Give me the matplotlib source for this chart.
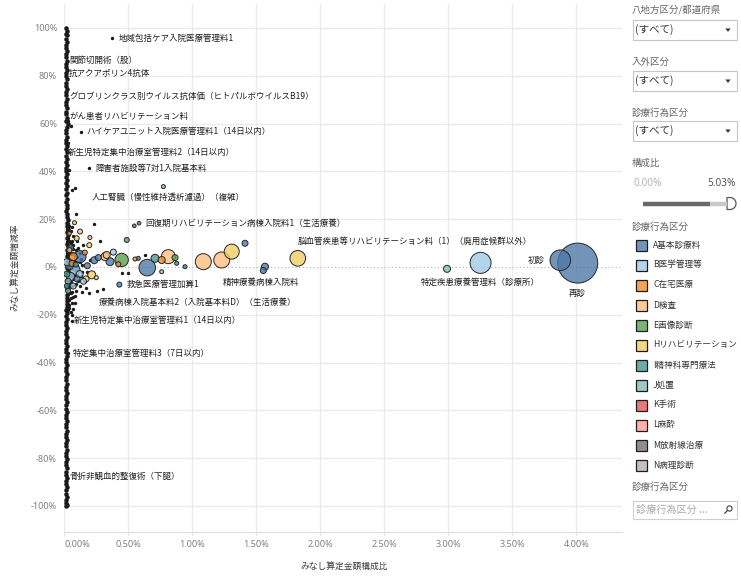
import numpy as np
import matplotlib
matplotlib.use('Agg')
import matplotlib.pyplot as plt
from matplotlib.patches import Rectangle, Polygon, Circle
from matplotlib.colors import to_rgba

plt.rcParams['font.family'] = ['Noto Sans CJK JP', 'DejaVu Sans']

# legend categories (診療行為区分) and tableau colours
categories = ['A基本診療料', 'B医学管理等', 'C在宅医療', 'D検査', 'E画像診断', 'Hリハビリテーション',
              'I精神科専門療法', 'J処置', 'K手術', 'L麻酔', 'M放射線治療', 'N病理診断']
cat_keys = ['A', 'B', 'C', 'D', 'E', 'H', 'I', 'J', 'K', 'L', 'M', 'N']
cat_colors = ['#4E79A7', '#A0CBE8', '#F28E2B', '#FFBE7D', '#59A14F', '#F1CE63',
              '#499894', '#86BCB6', '#E15759', '#FF9D9A', '#79706E', '#BAB0AC']

# coloured bubbles: x = 構成比(%), y = 増減率(%), r = bubble radius
bub_cat = ['A', 'A', 'B', 'J', 'H', 'A', 'A', 'A', 'H', 'D',
           'D', 'A', 'I', 'D', 'C', 'E', 'A', 'A', 'C', 'J',
           'E', 'C', 'D', 'B', 'A', 'A', 'C', 'B', 'H', 'E',
           'A', 'D', 'H', 'D', 'H', 'H', 'C', 'A', 'A', 'D',
           'B', 'B', 'J', 'I', 'B', 'A', 'H', 'D', 'D', 'C',
           'A', 'A', 'J', 'A', 'A', 'I', 'B', 'A', 'C', 'J',
           'B', 'A', 'I']
bub_x = [4.011, 3.875, 3.252, 2.990, 1.824, 1.412, 1.568, 1.555, 1.308, 1.230,
         1.086, 0.648, 0.709, 0.813, 0.761, 0.865, 0.878, 0.943, 0.552, 0.761,
         0.448, 0.422, 0.318, 0.383, 0.357, 0.123, 0.070, 0.084, 0.214, 0.488,
         0.578, 0.123, 0.097, 0.200, 0.080, 0.195, 0.039, 0.234, 0.266, 0.331,
         0.050, 0.120, 0.030, 0.020, 0.150, 0.100, 0.170, 0.250, 0.040, 0.060,
         0.040, 0.430, 0.774, 0.547, 0.584, 0.020, 0.020, 0.180, 0.160, 0.030,
         0.070, 0.050, 0.090]
bub_y = [1.6, 2.8, 1.7, -0.8, 3.6, 9.9, 0.1, -1.5, 6.4, 2.9,
         2.2, -0.3, 3.6, 4.3, 2.9, 3.9, 1.5, 0.1, 3.3, -2.0,
         2.9, 1.1, 4.3, 6.2, 2.2, 4.3, 4.3, -1.3, -3.3, 11.3,
         3.6, 14.8, 12.0, 12.3, 18.5, 9.1, 14.0, 2.8, 3.9, 5.0,
         -4.0, -3.0, -6.0, -8.0, -6.0, -5.0, -5.0, -4.5, 7.0, 1.5,
         0.5, -7.4, 33.6, 17.2, 18.3, -3.0, 2.0, 0.5, 6.0, -10.0,
         -8.0, 8.0, 1.0]
bub_r = [20.0, 10.3, 10.5, 3.5, 7.8, 3.0, 3.5, 3.0, 7.5, 8.0,
         8.0, 8.3, 4.0, 7.0, 3.5, 3.0, 2.0, 2.0, 2.0, 2.0,
         6.7, 2.5, 4.0, 3.0, 4.0, 6.0, 4.0, 5.0, 4.0, 2.5,
         2.0, 2.5, 2.5, 2.0, 2.0, 2.5, 2.0, 3.5, 3.0, 3.5,
         4.0, 3.5, 3.0, 2.5, 3.0, 3.0, 3.0, 2.0, 2.5, 3.0,
         4.0, 2.5, 2.0, 1.8, 1.8, 3.0, 3.5, 3.0, 2.5, 2.5,
         3.0, 3.0, 2.5]

# tiny items near 0% share (the dense column at the left edge)
col_y = [100.0, 98.8, 97.5, 96.9, 95.4, 94.1, 93.0, 91.6, 90.2, 89.1,
         87.7, 86.3, 85.0, 83.8, 82.4, 81.1, 79.7, 78.5, 77.0, 75.8,
         74.3, 73.1, 71.8, 70.4, 69.2, 67.7, 66.5, 65.0, 63.9, 62.4,
         61.2, 59.8, 58.6, 57.1, 55.9, 54.4, 53.3, 51.8, 50.6, 49.2,
         47.9, 46.6, 45.3, 44.0, 42.7, 41.4, 40.1, 38.9, 37.6, 36.2,
         35.0, 33.7, 32.4, 31.1, 29.9, 28.5, 27.3, 26.0, 24.7, 23.5,
         22.1, 20.9, 19.6, 18.4, 17.1, 15.9, 14.6, 13.4, 12.1, 10.9,
         9.6, 8.4, 7.1, 5.9, 4.6, 3.4, 2.1, 0.9, -0.4, -1.6,
         -2.9, -4.1, -5.4, -6.6, -7.9, -9.1, -10.4, -11.6, -12.9, -14.1,
         -15.4, -16.7, -17.9, -19.2, -20.5, -21.8, -23.0, -24.3, -25.6, -26.8,
         -28.1, -29.4, -30.7, -32.0, -33.2, -34.5, -35.8, -37.1, -38.4, -39.7,
         -41.0, -42.3, -43.6, -44.9, -46.2, -47.5, -48.8, -50.1, -51.4, -52.7,
         -54.0, -55.3, -56.6, -57.9, -59.3, -60.6, -61.9, -63.2, -64.5, -65.8,
         -67.1, -68.5, -69.8, -71.1, -72.4, -73.8, -75.1, -76.4, -77.7, -79.0,
         -80.4, -81.7, -83.0, -84.3, -85.6, -86.9, -88.3, -89.6, -90.9, -92.2,
         -93.5, -94.8, -96.1, -97.4, -98.7, -100.0, -99.4, -0.8, 1.5, -3.5]
col_x = [0.01, 0.02, 0.01, 0.02, 0.01, 0.02, 0.01, 0.01, 0.02, 0.01,
         0.01, 0.02, 0.01, 0.01, 0.02, 0.01, 0.01, 0.02, 0.01, 0.01,
         0.02, 0.01, 0.01, 0.02, 0.01, 0.01, 0.02, 0.01, 0.01, 0.02,
         0.01, 0.03, 0.02, 0.01, 0.01, 0.02, 0.01, 0.01, 0.02, 0.01,
         0.02, 0.01, 0.02, 0.01, 0.02, 0.01, 0.01, 0.02, 0.01, 0.02,
         0.01, 0.02, 0.01, 0.02, 0.01, 0.02, 0.01, 0.02, 0.02, 0.01,
         0.02, 0.02, 0.03, 0.02, 0.02, 0.03, 0.02, 0.03, 0.02, 0.03,
         0.02, 0.03, 0.02, 0.03, 0.02, 0.03, 0.02, 0.03, 0.02, 0.03,
         0.02, 0.03, 0.02, 0.03, 0.02, 0.02, 0.03, 0.02, 0.02, 0.02,
         0.02, 0.02, 0.01, 0.02, 0.01, 0.02, 0.01, 0.01, 0.02, 0.01,
         0.01, 0.02, 0.01, 0.01, 0.02, 0.01, 0.01, 0.02, 0.01, 0.01,
         0.02, 0.01, 0.01, 0.02, 0.01, 0.01, 0.02, 0.01, 0.01, 0.02,
         0.01, 0.01, 0.02, 0.01, 0.01, 0.02, 0.01, 0.01, 0.02, 0.01,
         0.01, 0.02, 0.01, 0.01, 0.02, 0.01, 0.01, 0.02, 0.01, 0.01,
         0.02, 0.01, 0.01, 0.02, 0.01, 0.01, 0.02, 0.01, 0.01, 0.02,
         0.01, 0.01, 0.02, 0.01, 0.01, 0.01, 0.02, 0.08, 0.07, 0.09]

# other small items (black dots)
dot_x = [0.03, 0.05, 0.04, 0.07, 0.06, 0.03, 0.09, 0.05, 0.08, 0.04,
         0.10, 0.06, 0.03, 0.08, 0.05, 0.11, 0.07, 0.04, 0.09, 0.06,
         0.03, 0.05, 0.08, 0.04, 0.06, 0.12, 0.14, 0.13, 0.16, 0.02,
         0.05, 0.03, 0.04, 0.02, 0.07, 0.10, 0.15, 0.18, 0.20, 0.17,
         0.091, 0.234, 0.279, 0.058, 0.136, 0.195, 0.253, 0.300, 0.066, 0.080,
         0.070, 0.058, 0.448, 0.500, 0.630, 0.060, 0.085, 0.030, 0.050, 0.373,
         0.130, 0.195, 0.060, 0.031, 0.040, 0.030,
         0.02, 0.04, 0.06, 0.02, 0.05, 0.07, 0.03, 0.02, 0.05, 0.08,
         0.02, 0.04, 0.06, 0.03, 0.07, 0.02, 0.05, 0.09, 0.03, 0.06,
         0.02, 0.04, 0.07, 0.03, 0.05, 0.02, 0.08, 0.04, 0.02, 0.06,
         0.03, 0.05, 0.02, 0.04, 0.03, 0.05, 0.02, 0.04, 0.06, 0.03,
         0.11, 0.12, 0.10, 0.12, 0.09, 0.14, 0.13, 0.10, 0.08, 0.11]
dot_y = [12, 10, 8, 9, 6, 5, 7, 3, 2, 1,
         4, -1, -2, -3, -4, -1, -5, -6, -7, -8,
         -9, -11, -12, -14, -15, 6, 1, -4, -6, 14,
         15, 18, -17, -19, 13, 11, 9, -2, 3, -9,
         22.1, 17.8, 11.0, -8.0, -10.3, -10.8, -10.2, -9.2, -12.5, -15.2,
         -17.4, -20.0, -2.7, -2.4, 5.0, 32.0, 33.0, 61.0, 59.0, 95.8,
         56.6, 41.3, -22.5, -36.1, 40.5, 52.0,
         10.5, 11.0, 10.8, 9.0, 8.5, 7.5, 7.0, 6.0, 5.5, 5.0,
         4.0, 3.5, 2.5, 2.0, 1.0, 0.5, -0.5, -1.5, -1.0, -2.5,
         -3.0, -3.5, -4.0, -5.0, -6.5, -7.0, -7.5, -8.5, -10.0, -10.5,
         -11.5, -12.8, -13.5, -16.0, -18.0, -19.0, 16.0, 17.0, 16.5, 20.0,
         8.0, 2.0, -3.0, -8.0, -10.0, -2.0, 3.5, 0.5, -0.5, -6.0]

label_names = ['地域包括ケア入院医療管理料1', '関節切開術（股）', '抗アクアポリン4抗体',
               'グロブリンクラス別ウイルス抗体価（ヒトパルボウイルスB19）', 'がん患者リハビリテーション料',
               'ハイケアユニット入院医療管理料1（14日以内）', '新生児特定集中治療室管理料2（14日以内）',
               '障害者施設等7対1入院基本料', '人工腎臓（慢性維持透析濾過）（複雑）',
               '回復期リハビリテーション病棟入院料1（生活療養）',
               '脳血管疾患等リハビリテーション料（1）（廃用症候群以外）', '初診',
               '特定疾患療養管理料（診療所）', '再診', '精神療養病棟入院料', '救急医療管理加算1',
               '療養病棟入院基本料2（入院基本料D）（生活療養）', '新生児特定集中治療室管理料1（14日以内）',
               '特定集中治療室管理料3（7日以内）', '骨折非観血的整復術（下腿）']

x_ticks = [0.0, 0.5, 1.0, 1.5, 2.0, 2.5, 3.0, 3.5, 4.0]
y_ticks = [-100, -80, -60, -40, -20, 0, 20, 40, 60, 80, 100]

W, H = 741, 582
fig = plt.figure(figsize=(W / 100, H / 100), dpi=100)
ax = fig.add_axes([64 / W, 1 - 532 / H, (622 - 64) / W, (532 - 4) / H])
ax.set_xlim(-0.0023, 4.357)
ax.set_ylim(-110.9, 110.0)

# grid
for xv in x_ticks:
    ax.axvline(xv, color='#ebebeb', lw=1.0, zorder=0)
for yv in y_ticks:
    if yv != 0:
        ax.axhline(yv, color='#ebebeb', lw=1.0, zorder=0)
ax.axhline(0, color='#b0b0b0', lw=0.8, ls=(0, (1, 2.2)), zorder=0.5)

for s in ['top', 'right', 'left']:
    ax.spines[s].set_visible(False)
ax.spines['bottom'].set_color('#dcdcdc')

ax.set_xticks(x_ticks, labels=['%.2f%%' % v for v in x_ticks], fontsize=6.5,
              color='#7f7f7f', family='Noto Sans')
ax.set_yticks(y_ticks, labels=['%d%%' % v for v in y_ticks], fontsize=6.5,
              color='#7f7f7f', family='Noto Sans')
ax.get_xticklabels()[0].set_horizontalalignment('left')
ax.tick_params(axis='x', length=2.5, color='#dcdcdc', pad=3)
ax.tick_params(axis='y', length=0, pad=5)

# marks
ax.scatter(col_x, col_y, s=(4.5 * 0.72) ** 2, color='#1a1a1a', lw=0, zorder=2)
ax.scatter(dot_x, dot_y, s=(3.4 * 0.72) ** 2, color='#1a1a1a', lw=0, zorder=2)

order = np.argsort(bub_r)[::-1]
cmap = dict(zip(cat_keys, cat_colors))
bx = np.array(bub_x)[order]
by = np.array(bub_y)[order]
br = np.array(bub_r)[order]
bc = [to_rgba(cmap[bub_cat[i]], 0.8) for i in order]
ax.scatter(bx, by, s=(2 * br * 0.72) ** 2, c=bc, edgecolors='#262626', linewidths=0.7, zorder=3)

# mark labels (x, y, ha)
label_pos = [(0.428, 95.6, 'left'), (0.037, 86.4, 'left'), (0.037, 81.0, 'left'),
             (0.037, 71.4, 'left'), (0.037, 63.0, 'left'), (0.170, 56.5, 'left'),
             (0.029, 48.0, 'left'), (0.240, 41.3, 'left'), (0.216, 29.2, 'left'),
             (0.630, 18.3, 'left'), (1.826, 10.8, 'left'), (3.757, 2.9, 'right'),
             (3.248, -6.3, 'center'), (4.005, -10.9, 'center'), (1.238, -6.6, 'left'),
             (0.490, -7.5, 'left'), (0.266, -15.0, 'left'), (0.076, -22.5, 'left'),
             (0.066, -36.1, 'left'), (0.039, -87.6, 'left')]
for name, (lx, ly, ha) in zip(label_names, label_pos):
    ax.text(lx, ly, name, ha=ha, va='center', fontsize=6.1, color='#1e1e1e', zorder=4)

# overlay in pixel coordinates for titles and the side panel
ov = fig.add_axes([0, 0, 1, 1], facecolor='none')
ov.set_xlim(0, W)
ov.set_ylim(H, 0)
ov.axis('off')

ov.text(344, 566, 'みなし算定金額構成比', ha='center', va='center', fontsize=6.3, color='#3a3a3a')
ov.text(15, 267, 'みなし算定金額増減率', ha='center', va='center', fontsize=6.3, color='#3a3a3a',
        rotation=90)

filters = [('八地方区分/都道府県', 10, 20), ('入外区分', 62, 71), ('診療行為区分', 113, 121)]
for title, ty, by0 in filters:
    ov.text(632, ty, title, ha='left', va='center', fontsize=6.8, color='#666666')
    ov.add_patch(Rectangle((632.5, by0), 104.5, 20, facecolor='white', edgecolor='#c6c6c6', lw=0.8))
    ov.text(635, by0 + 10, '(すべて)', ha='left', va='center', fontsize=7.6, color='#333333')
    ov.add_patch(Polygon([(725.3, by0 + 8.5), (730.7, by0 + 8.5), (728, by0 + 11.8)],
                         closed=True, facecolor='#333333', edgecolor='none'))

ov.text(632, 163, '構成比', ha='left', va='center', fontsize=6.8, color='#666666')
ov.text(634, 184, '0.00%', ha='left', va='center', fontsize=7.2, color='#b4b4b4', family='Noto Sans')
ov.text(736, 184, '5.03%', ha='right', va='center', fontsize=7.2, color='#555555', family='Noto Sans')
ov.plot([643, 710], [203.5, 203.5], color='#6a6a6a', lw=3.2, solid_capstyle='butt')
ov.plot([710, 727], [203.5, 203.5], color='#c9c9c9', lw=3.2, solid_capstyle='butt')
ang = np.linspace(-np.pi / 2, np.pi / 2, 30)
handle = [(727, 197.5)] + [(730 + 6 * np.cos(a), 203.5 + 6 * np.sin(a)) for a in ang] + [(727, 209.5)]
ov.add_patch(Polygon(handle, closed=True, facecolor='white', edgecolor='#555555', lw=0.9))

ov.text(632, 227, '診療行為区分', ha='left', va='center', fontsize=6.8, color='#666666')
for i, (name, col) in enumerate(zip(categories, cat_colors)):
    yy = 245 + 20 * i
    ov.add_patch(Rectangle((635.5, yy - 5.5), 11, 11, facecolor=to_rgba(col, 0.8),
                           edgecolor='#1e1e1e', lw=0.9))
    ov.text(653, yy, name, ha='left', va='center', fontsize=6.2, color='#333333')

ov.text(632, 487, '診療行為区分', ha='left', va='center', fontsize=6.8, color='#666666')
ov.add_patch(Rectangle((632.5, 501), 104.5, 18, facecolor='white', edgecolor='#cfcfcf', lw=0.8))
ov.text(636, 510, '診療行為区分 ...', ha='left', va='center', fontsize=7.3, color='#ababab')
ov.add_patch(Circle((729.5, 508.5), 2.6, facecolor='none', edgecolor='#444444', lw=0.8))
ov.plot([727.6, 724.8], [510.4, 513.2], color='#444444', lw=0.9)

fig.savefig('out.png', dpi=100)
